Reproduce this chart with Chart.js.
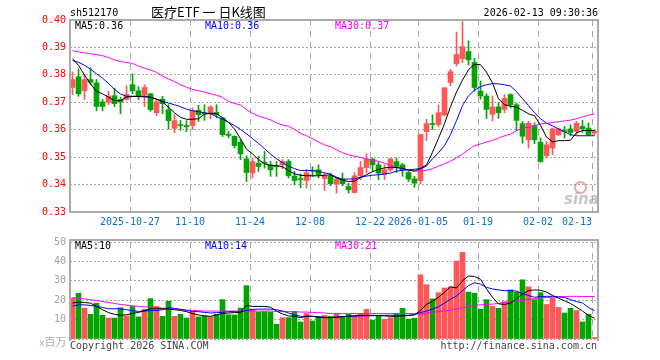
<!DOCTYPE html>
<html>
<head>
<meta charset="utf-8">
<script src="https://cdn.jsdelivr.net/npm/chart.js@4.4.1/dist/chart.umd.min.js"></script>
<style>
body { margin: 0; background: #fff; }
#wrap { position: relative; width: 660px; height: 360px; overflow: hidden; font-family: "DejaVu Sans Mono", monospace; font-size: 10px; }
#wrap canvas { position: absolute; left: 0; }
.t { position: absolute; white-space: pre; line-height: 12px; }
.frame { position: absolute; border: 2px solid #aaa; box-sizing: border-box; }
</style>
</head>
<body>
<div id="wrap">
  <canvas id="kline" width="660" height="232" style="top:0"></canvas>
  <canvas id="vol" width="660" height="128" style="top:232px"></canvas>
  <div class="frame" style="left:69px;top:19px;width:530px;height:194px"></div>
  <div class="frame" style="left:69px;top:239px;width:530px;height:102px;border-bottom:none"></div>

  <div class="t" style="left:70px;top:7px">sh512170</div>
  <div class="t" style="left:151px;top:4px;font-family:'Noto Sans CJK SC';font-size:13px;line-height:16px">医疗ETF 一 日K线图</div>
  <div class="t" style="right:62px;top:7px">2026-02-13 09:30:36</div>

  <div class="t" style="left:75px;top:20px;color:#000">MA5:0.36</div>
  <div class="t" style="left:205px;top:20px;color:#0000ff">MA10:0.36</div>
  <div class="t" style="left:335px;top:20px;color:#ff00ff">MA30:0.37</div>

  <div class="t" style="left:75px;top:240px;color:#000">MA5:10</div>
  <div class="t" style="left:205px;top:240px;color:#0000ff">MA10:14</div>
  <div class="t" style="left:335px;top:240px;color:#ff00ff">MA30:21</div>

  <div class="t" style="left:39px;top:335px;color:#aaa;font-size:9px">x<span style="font-family:'Noto Sans CJK SC';font-size:11px">百万</span></div>
  <div class="t" style="left:70px;top:340px;color:#444">Copyright 2026 SINA.COM</div>
  <div class="t" style="right:63px;top:340px;color:#444">http://finance.sina.com.cn</div>

  <div style="position:absolute;left:574px;top:181px;width:9px;height:9px;border:2px solid rgba(230,90,90,0.55);border-radius:50%"></div>
  <div class="t" style="left:564px;top:191px;font-family:'DejaVu Sans';font-style:italic;font-weight:bold;font-size:15px;line-height:16px;color:rgba(160,160,160,0.6)">sina</div>
</div>

<script>
// 日K: 2025-10-13 .. 2026-02-13, 88 trading days
const tickPos = [10, 20, 30, 40, 50, 58, 68, 78, 87];
const tickLabels = ["2025-10-27", "11-10", "11-24", "12-08", "12-22", "2026-01-05", "01-19", "02-02", "02-13"];

const open = [
  .3754, .3793, .3742, .3783, .3771, .3701, .3701, .3724, .3710, .3710,
  .3764, .3742, .3726, .3731, .3662, .3711, .3673, .3605, .3618, .3615,
  .3615, .3671, .3662, .3658, .3663, .3643, .3583, .3576, .3554, .3494,
  .3442, .3478, .3481, .3472, .3469, .3472, .3484, .3431, .3421, .3415,
  .3452, .3454, .3422, .3430, .3403, .3420, .3393, .3371, .3432, .3462,
  .3493, .3472, .3436, .3454, .3484, .3472, .3444, .3421, .3414, .3593,
  .3622, .3619, .3654, .3772, .3841, .3859, .3885, .3845, .3741, .3723,
  .3656, .3683, .3674, .3728, .3691, .3622, .3563, .3615, .3554, .3505,
  .3533, .3582, .3595, .3603, .3594, .3612, .3606, .3588
];
const high = [
  .3811, .3822, .3801, .3825, .3783, .3710, .3740, .3752, .3718, .3761,
  .3804, .3757, .3764, .3733, .3710, .3722, .3691, .3655, .3634, .3633,
  .3680, .3689, .3691, .3688, .3691, .3645, .3594, .3578, .3564, .3505,
  .3497, .3503, .3521, .3484, .3484, .3491, .3491, .3448, .3439, .3456,
  .3465, .3472, .3442, .3442, .3427, .3442, .3405, .3444, .3484, .3512,
  .3497, .3484, .3472, .3497, .3497, .3478, .3448, .3430, .3583, .3638,
  .3654, .3690, .3753, .3820, .3956, .3994, .3924, .3860, .3778, .3731,
  .3723, .3699, .3728, .3731, .3697, .3630, .3630, .3625, .3570, .3557,
  .3606, .3606, .3612, .3618, .3630, .3634, .3625, .3600
];
const low = [
  .3728, .3722, .3710, .3764, .3669, .3669, .3691, .3684, .3658, .3708,
  .3731, .3710, .3684, .3667, .3651, .3658, .3602, .3589, .3598, .3593,
  .3600, .3630, .3634, .3639, .3643, .3575, .3570, .3533, .3491, .3411,
  .3424, .3448, .3460, .3430, .3430, .3457, .3424, .3399, .3388, .3388,
  .3429, .3424, .3378, .3396, .3369, .3396, .3369, .3369, .3418, .3442,
  .3448, .3418, .3418, .3448, .3444, .3430, .3411, .3390, .3403, .3560,
  .3601, .3610, .3650, .3760, .3832, .3845, .3836, .3740, .3711, .3641,
  .3632, .3641, .3662, .3679, .3596, .3551, .3533, .3549, .3481, .3497,
  .3509, .3578, .3570, .3578, .3582, .3590, .3578, .3579
];
const close = [
  .3783, .3731, .3783, .3773, .3685, .3685, .3723, .3695, .3702, .3728,
  .3742, .3724, .3754, .3673, .3702, .3695, .3633, .3633, .3615, .3611,
  .3670, .3655, .3657, .3683, .3655, .3582, .3579, .3542, .3512, .3444,
  .3484, .3466, .3478, .3454, .3465, .3484, .3432, .3415, .3418, .3443,
  .3449, .3436, .3432, .3403, .3420, .3403, .3381, .3432, .3462, .3493,
  .3472, .3442, .3454, .3493, .3466, .3454, .3420, .3405, .3583, .3622,
  .3619, .3662, .3753, .3812, .3874, .3903, .3855, .3754, .3723, .3674,
  .3683, .3662, .3714, .3691, .3634, .3576, .3624, .3563, .3484, .3545,
  .3603, .3603, .3593, .3590, .3624, .3603, .3582, .3594
];
const ma5 = [
  .3859, .3835, .3799, .3767, .3740, .3731, .3719, .3706, .3706, .3719,
  .3721, .3721, .3720, .3718, .3712, .3701, .3682, .3662, .3645, .3638,
  .3638, .3640, .3657, .3660, .3658, .3644, .3627, .3602, .3567, .3529,
  .3512, .3491, .3476, .3470, .3469, .3465, .3451, .3439, .3434, .3432,
  .3432, .3432, .3434, .3435, .3424, .3416, .3411, .3413, .3425, .3436,
  .3447, .3455, .3461, .3463, .3462, .3459, .3452, .3449, .3459, .3472,
  .3518, .3569, .3622, .3684, .3737, .3781, .3819, .3838, .3837, .3810,
  .3770, .3713, .3691, .3686, .3682, .3671, .3658, .3651, .3616, .3573,
  .3556, .3560, .3560, .3562, .3589, .3597, .3597, .3597
];
const ma10 = [
  .3852, .3846, .3835, .3821, .3804, .3788, .3769, .3747, .3730, .3722,
  .3722, .3722, .3722, .3719, .3711, .3704, .3697, .3691, .3684, .3675,
  .3669, .3666, .3661, .3658, .3648, .3638, .3627, .3615, .3601, .3585,
  .3568, .3550, .3531, .3511, .3494, .3480, .3467, .3458, .3451, .3451,
  .3451, .3448, .3443, .3438, .3427, .3420, .3420, .3421, .3427, .3431,
  .3434, .3436, .3439, .3442, .3449, .3452, .3454, .3456, .3458, .3467,
  .3494, .3516, .3542, .3582, .3633, .3688, .3724, .3744, .3757, .3764,
  .3768, .3767, .3764, .3759, .3739, .3713, .3688, .3662, .3640, .3624,
  .3614, .3603, .3592, .3582, .3578, .3578, .3578, .3578
];
const ma30 = [
  .3888, .3884, .3880, .3877, .3874, .3870, .3863, .3855, .3848, .3845,
  .3842, .3832, .3824, .3818, .3809, .3796, .3785, .3775, .3764, .3755,
  .3747, .3742, .3737, .3731, .3726, .3718, .3703, .3696, .3690, .3673,
  .3660, .3650, .3643, .3636, .3625, .3617, .3613, .3601, .3587, .3578,
  .3567, .3555, .3545, .3538, .3527, .3516, .3509, .3503, .3499, .3493,
  .3488, .3485, .3478, .3470, .3463, .3458, .3454, .3450, .3449, .3452,
  .3458, .3467, .3476, .3485, .3498, .3511, .3527, .3542, .3548, .3555,
  .3561, .3569, .3578, .3584, .3596, .3607, .3609, .3614, .3621, .3623,
  .3626, .3629, .3632, .3635, .3640, .3647, .3653, .3657
];

// 成交量 (百万)
const volume = [
  21.2, 23.6, 15.9, 12.7, 18.5, 12.2, 10.8, 10.8, 16.1, 11.9,
  16.8, 11.4, 15.3, 20.8, 16.8, 11.7, 19.5, 11.7, 12.7, 10.8,
  13.9, 11.4, 11.9, 11.4, 12.7, 20.3, 12.5, 12.4, 15.9, 27.5,
  15.1, 13.9, 14.1, 13.9, 7.6, 11.0, 11.0, 14.2, 8.8, 13.2,
  9.3, 11.5, 12.2, 11.7, 13.1, 11.7, 12.7, 11.7, 13.1, 15.3,
  9.7, 12.2, 10.2, 11.0, 12.7, 15.8, 10.2, 10.7, 33.1, 28.0,
  20.7, 23.9, 26.3, 26.9, 40.2, 44.7, 24.2, 23.6, 15.3, 20.3,
  16.8, 15.8, 19.3, 25.3, 24.1, 30.5, 26.9, 20.3, 23.9, 17.8,
  21.0, 16.3, 13.4, 15.8, 14.7, 8.8, 12.7, 0.8
];
const volMa5 = [
  18.6, 19.0, 18.8, 18.5, 16.8, 15.1, 13.6, 12.7, 12.2, 12.5,
  13.2, 13.7, 14.6, 15.6, 15.6, 15.6, 15.4, 15.1, 14.7, 14.1,
  13.1, 12.4, 11.9, 11.7, 12.4, 13.2, 13.4, 13.6, 13.7, 17.3,
  16.8, 16.8, 16.8, 16.4, 14.4, 12.9, 11.9, 11.7, 11.0, 11.7,
  11.7, 11.2, 11.0, 11.0, 11.2, 11.5, 11.8, 12.0, 12.2, 12.2,
  12.2, 12.1, 11.9, 11.7, 11.7, 11.9, 12.1, 12.5, 14.7, 17.8,
  19.5, 21.5, 24.1, 26.9, 26.3, 30.0, 32.5, 32.2, 30.8, 25.8,
  21.5, 18.1, 17.8, 18.5, 20.7, 23.2, 24.9, 25.3, 25.1, 24.2,
  22.5, 21.0, 19.7, 18.3, 16.4, 14.4, 12.2, 10.7
];
const volMa10 = [
  16.9, 17.6, 17.6, 17.3, 16.8, 16.3, 15.6, 15.6, 15.6, 15.1,
  14.6, 14.2, 14.4, 14.7, 14.7, 15.1, 16.1, 15.8, 15.3, 14.7,
  14.2, 14.1, 13.7, 13.4, 13.6, 13.7, 14.1, 14.1, 13.9, 14.7,
  15.3, 15.4, 15.4, 15.4, 15.1, 14.4, 13.4, 12.4, 11.7, 11.7,
  11.7, 11.4, 11.2, 11.0, 11.4, 11.5, 11.7, 11.8, 11.9, 12.0,
  12.0, 12.1, 12.2, 12.2, 12.2, 12.2, 12.2, 12.5, 13.6, 14.4,
  15.4, 16.6, 18.5, 20.5, 22.2, 24.9, 27.5, 29.0, 28.3, 26.6,
  25.8, 25.3, 24.9, 24.9, 24.7, 23.4, 22.4, 21.5, 21.9, 22.0,
  22.0, 21.7, 21.4, 20.3, 19.3, 18.6, 16.2, 14.6
];
const volMa30 = [
  21.2, 21.0, 20.7, 20.3, 19.8, 19.3, 18.8, 18.3, 17.8, 17.5,
  17.1, 16.8, 16.6, 16.4, 16.3, 15.9, 15.8, 15.6, 15.3, 14.9,
  14.7, 14.6, 14.4, 14.4, 14.4, 14.4, 14.4, 14.4, 14.4, 14.4,
  14.4, 14.4, 14.4, 14.4, 14.2, 14.2, 14.1, 14.1, 13.9, 13.9,
  13.7, 13.6, 13.4, 13.1, 13.1, 13.1, 13.1, 13.1, 13.1, 13.1,
  13.1, 13.1, 13.1, 13.1, 13.1, 13.1, 13.1, 13.1, 13.1, 13.4,
  13.7, 14.1, 14.4, 14.9, 15.4, 16.1, 16.6, 17.3, 17.6, 17.8,
  18.0, 18.3, 18.8, 19.2, 19.5, 19.8, 20.5, 20.8, 21.2, 21.4,
  21.5, 21.7, 21.9, 22.0, 22.0, 21.9, 21.9, 21.9
];

const UP = "#ff5757";
const DOWN = "#00a600";
const OFF = 5 / 12; // candle centre inside its 6px slot
const FONT = { family: "DejaVu Sans Mono", size: 10 };
const GRID = "#a8a8a8";

const candleColor = (i) => (close[i] >= open[i] ? UP : DOWN);
const xy = (arr) => arr.map((v, i) => ({ x: i + OFF, y: v }));

// last date sits at the right edge, so its label ends on the line
function dateLabel(v) {
    const k = tickPos.indexOf(v);
    const s = tickLabels[k];
    return k === tickPos.length - 1 ? s + " ".repeat(s.length) : s;
}

function xScale(showLabels) {
    return {
        type: "linear",
        min: 0,
        max: 88,
        offset: false,
        afterBuildTicks: (s) => { s.ticks = tickPos.map((v) => ({ value: v })); },
        afterFit: (s) => { s.height = showLabels ? 20 : 21; },
        grid: { color: GRID, drawTicks: false, offset: false },
        border: { display: false, dash: [6, 5] },
        ticks: {
            display: showLabels,
            autoSkip: false,
            maxRotation: 0,
            padding: 4,
            color: "#0a74c4",
            font: FONT,
            callback: dateLabel
        }
    };
}

function maLine(data, color) {
    return {
        type: "line",
        data: xy(data),
        borderColor: color,
        borderWidth: 1,
        pointRadius: 0,
        tension: 0,
        order: 0
    };
}

const common = {
    responsive: false,
    animation: false,
    devicePixelRatio: 1,
    events: [],
    plugins: { legend: { display: false }, tooltip: { enabled: false } }
};

new Chart(document.getElementById("kline"), {
    type: "bar",
    data: {
        datasets: [
            maLine(ma5, "#000000"),
            maLine(ma10, "#0000ff"),
            maLine(ma30, "#ff00ff"),
            {
                data: open.map((o, i) => ({ x: i + OFF, y: [o, close[i]] })),
                backgroundColor: (c) => candleColor(c.dataIndex),
                barThickness: 5,
                minBarLength: 1,
                grouped: false,
                order: 1
            },
            {
                data: low.map((l, i) => ({ x: i + OFF, y: [l, high[i]] })),
                backgroundColor: (c) => candleColor(c.dataIndex),
                barThickness: 1,
                grouped: false,
                order: 2
            }
        ]
    },
    options: {
        ...common,
        layout: { padding: { top: 20, right: 62, left: 0, bottom: 0 } },
        scales: {
            x: xScale(true),
            y: {
                min: 0.33,
                max: 0.40,
                afterFit: (s) => { s.width = 70; },
                grid: { color: GRID, drawTicks: false },
                border: { display: false, dash: [2, 2] },
                ticks: {
                    stepSize: 0.01,
                    padding: 4,
                    color: "#ff0000",
                    font: FONT,
                    callback: (v) => v.toFixed(2)
                }
            }
        }
    }
});

new Chart(document.getElementById("vol"), {
    type: "bar",
    data: {
        datasets: [
            maLine(volMa5, "#000000"),
            maLine(volMa10, "#0000ff"),
            maLine(volMa30, "#ff00ff"),
            {
                data: xy(volume),
                backgroundColor: (c) => candleColor(c.dataIndex),
                barThickness: 5,
                grouped: false,
                order: 1
            }
        ]
    },
    options: {
        ...common,
        layout: { padding: { top: 8, right: 62, left: 0, bottom: 0 } },
        scales: {
            x: xScale(false),
            y: {
                min: 0,
                max: 50,
                afterFit: (s) => { s.width = 70; },
                grid: { color: GRID, drawTicks: false },
                border: { display: false, dash: [2, 2] },
                ticks: {
                    stepSize: 10,
                    padding: 4,
                    color: "#a0a0a0",
                    font: FONT,
                    callback: (v) => (v === 0 ? "" : v)
                }
            }
        }
    }
});
</script>
</body>
</html>
